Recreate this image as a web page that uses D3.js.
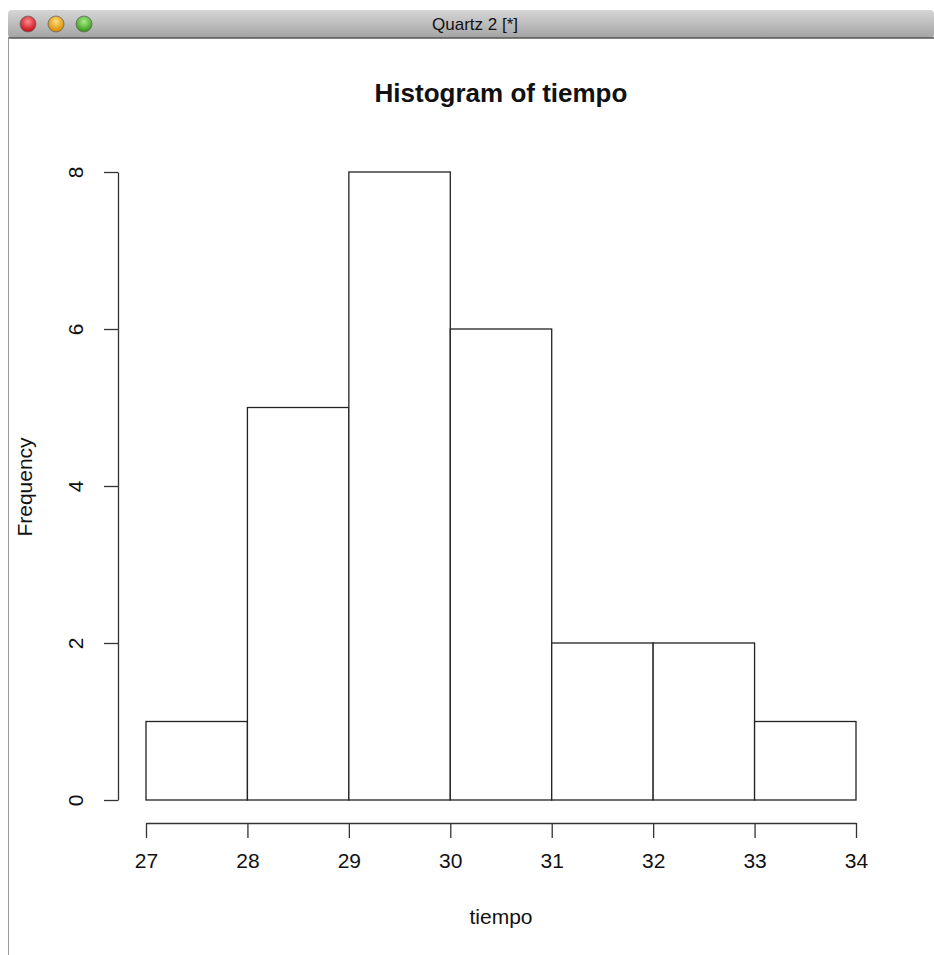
<!DOCTYPE html>
<html lang="en">

<head>
	<meta charset="utf-8">
	<script src='https://d3js.org/d3.v7.min.js'></script>
	<style>
		body { margin: 0; background: #ffffff; }
		text { font-family: "Liberation Sans", Arial, Helvetica, sans-serif; }
	</style>
</head>

<body>
	<script>
    // Data - histogram of tiempo
    const breaks = [27, 28, 29, 30, 31, 32, 33, 34];
    const counts = [1, 5, 8, 6, 2, 2, 1];
    const xTicks = [27, 28, 29, 30, 31, 32, 33, 34];
    const yTicks = [0, 2, 4, 6, 8];
    const bins = counts.map((c, i) => ({ x0: breaks[i], x1: breaks[i + 1], n: c }));

    // Set Dimensions
    const xSize = 934;
    const ySize = 955;

    const svg = d3.select("body")
      .append("svg")
      .attr('width', xSize)
      .attr('height', ySize);

    // Window frame (Quartz device)
    const tb = svg.append("linearGradient")
      .attr("id", "titlebar")
      .attr("x1", 0).attr("y1", 0).attr("x2", 0).attr("y2", 1);
    tb.append("stop").attr("offset", "0%").attr("stop-color", "#d6d6d6");
    tb.append("stop").attr("offset", "100%").attr("stop-color", "#a3a3a3");

    svg.append("rect")
      .attr("x", 8).attr("y", 10)
      .attr("width", xSize - 8).attr("height", 28)
      .attr("rx", 4)
      .attr("fill", "url(#titlebar)");
    svg.append("line")
      .attr("x1", 8).attr("x2", xSize)
      .attr("y1", 38).attr("y2", 38)
      .attr("stroke", "#555").attr("stroke-width", 1.5);
    svg.append("line")
      .attr("x1", 8.5).attr("x2", 8.5)
      .attr("y1", 38).attr("y2", ySize)
      .attr("stroke", "#9a9a9a").attr("stroke-width", 1);

    const buttons = [
      { cx: 28, c1: "#ff8a8a", c2: "#c8101a" },
      { cx: 56, c1: "#ffe080", c2: "#d98a00" },
      { cx: 84, c1: "#a8ee8a", c2: "#3a9a1a" }
    ];
    buttons.forEach((b, i) => {
      const g = svg.append("radialGradient")
        .attr("id", "btn" + i)
        .attr("cx", "50%").attr("cy", "35%").attr("r", "60%");
      g.append("stop").attr("offset", "0%").attr("stop-color", b.c1);
      g.append("stop").attr("offset", "100%").attr("stop-color", b.c2);
      svg.append("circle")
        .attr("cx", b.cx).attr("cy", 24).attr("r", 8)
        .attr("fill", "url(#btn" + i + ")")
        .attr("stroke", "#6a6a6a").attr("stroke-width", 0.8);
    });

    svg.append("text")
      .attr("x", 475).attr("y", 30)
      .attr("text-anchor", "middle")
      .style("font-size", "17px")
      .attr("fill", "#111")
      .text("Quartz 2 [*]");

    // Scales
    const x = d3.scaleLinear()
      .domain([27, 34]).range([146, 856]);
    const y = d3.scaleLinear()
      .domain([0, 8]).range([800, 172]);

    // Bars
    svg.append("g")
      .selectAll("rect")
      .data(bins)
      .enter().append("rect")
      .attr("x", d => x(d.x0))
      .attr("y", d => y(d.n))
      .attr("width", d => x(d.x1) - x(d.x0))
      .attr("height", d => y(0) - y(d.n))
      .attr("fill", "white")
      .attr("stroke", "#222")
      .attr("stroke-width", 1.3);

    // X Axis
    const xAxis = svg.append("g")
      .attr("transform", "translate(0,823)")
      .call(d3.axisBottom(x).tickValues(xTicks).tickFormat(d3.format("d"))
        .tickSize(15).tickPadding(15).tickSizeOuter(0));
    xAxis.select(".domain").attr("stroke", "#333").attr("stroke-width", 1.3);
    xAxis.selectAll(".tick line").attr("stroke", "#333").attr("stroke-width", 1.3);
    xAxis.selectAll(".tick text")
      .style("font-size", "21px")
      .attr("fill", "#111");

    // Y Axis
    const yAxis = svg.append("g")
      .attr("transform", "translate(118,0)")
      .call(d3.axisLeft(y).tickValues(yTicks).tickFormat(d3.format("d"))
        .tickSize(14).tickSizeOuter(0));
    yAxis.select(".domain").attr("stroke", "#333").attr("stroke-width", 1.3);
    yAxis.selectAll(".tick line").attr("stroke", "#333").attr("stroke-width", 1.3);
    yAxis.selectAll(".tick text")
      .attr("x", 0).attr("dy", null)
      .attr("transform", "translate(-43,0) rotate(-90)")
      .attr("text-anchor", "middle")
      .attr("dominant-baseline", "central")
      .style("font-size", "21px")
      .attr("fill", "#111");

    // Title and axis labels
    svg.append("text")
      .attr("x", 501).attr("y", 102)
      .attr("text-anchor", "middle")
      .style("font-size", "26px")
      .style("font-weight", "bold")
      .attr("fill", "#111")
      .text("Histogram of tiempo");

    svg.append("text")
      .attr("x", 501).attr("y", 924)
      .attr("text-anchor", "middle")
      .style("font-size", "21px")
      .attr("fill", "#111")
      .text("tiempo");

    svg.append("text")
      .attr("transform", "translate(32,487) rotate(-90)")
      .attr("text-anchor", "middle")
      .style("font-size", "21px")
      .attr("fill", "#111")
      .text("Frequency");
	</script>
</body>

</html>
